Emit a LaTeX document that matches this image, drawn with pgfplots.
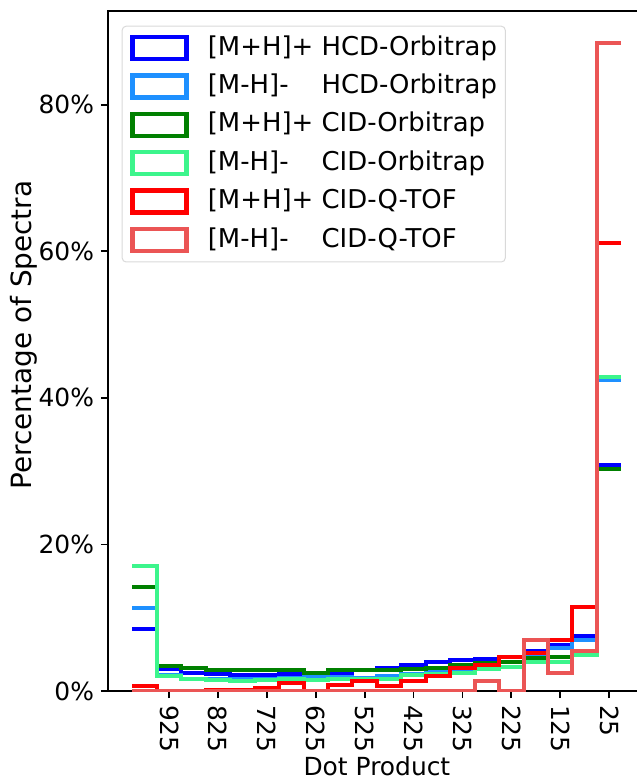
\documentclass[border=0pt]{standalone}
\usepackage{fontspec}
\setmainfont{DejaVu Sans}
\usepackage{pgfplots}
\pgfplotsset{compat=1.18}

\definecolor{cBlue}{RGB}{0,0,255}
\definecolor{cLBlue}{RGB}{30,144,255}
\definecolor{cDGreen}{RGB}{0,128,0}
\definecolor{cLGreen}{RGB}{60,245,140}
\definecolor{cRed}{RGB}{255,0,0}
\definecolor{cLRed}{RGB}{235,85,85}

\begin{document}
\begin{tikzpicture}
\begin{axis}[
  scale only axis, width=268.9bp, height=340bp,
  x dir=reverse, xmin=-50, xmax=1050, ymin=0, ymax=92.8,
  xtick={25,125,...,925},
  ytick={0,20,40,60,80},
  yticklabel={\pgfmathprintnumber{\tick}\%},
  /pgf/number format/assume math mode=true,
  tick label style={font=\fontsize{12.5}{14}\selectfont},
  xticklabel style={rotate=-90, anchor=west},
  tick align=outside, major tick length=3.5bp,
  xtick pos=bottom, ytick pos=left,
  tick style={black, line width=0.9bp},
  axis line style={line width=1.1bp},
  xlabel={Dot Product},
  xlabel style={at={(axis description cs:0.5,0)}, anchor=base, yshift=-42bp, font=\fontsize{12.5}{15}\selectfont},
  ylabel={Percentage of Spectra},
  ylabel style={at={(axis description cs:0,0.5)}, anchor=center, yshift=42bp, xshift=8bp, font=\fontsize{14}{16}\selectfont},
  legend image code/.code={\draw[#1, sharp corners, line width=2.2bp] (0bp,-5.5bp) rectangle (27bp,5.5bp);},
  legend cell align=left,
  legend style={at={(axis description cs:0,1)}, anchor=north west, xshift=6.85bp, yshift=-7.35bp,
    draw=black!15, line width=0.5bp, rounded corners=2bp, fill=white, fill opacity=0.8, text opacity=1,
    font=\fontsize{13}{15}\selectfont, inner xsep=4.15bp, inner ysep=4.35bp, row sep=6bp, column sep=9.5bp,
    nodes={inner sep=0pt, text height=10bp, text depth=3bp}},
  every axis plot/.append style={const plot mark left, line width=2bp, mark=none},
]
\coordinate (sw) at (axis description cs:0,0);
\coordinate (ne) at (axis description cs:1,1);

\addplot[cBlue] coordinates {(1000,8.4)(950,3.0)(900,2.5)(850,2.3)(800,2.2)(750,2.2)(700,2.3)(650,2.2)(600,2.4)(550,2.8)(500,3.1)(450,3.6)(400,3.9)(350,4.2)(300,4.4)(250,4.6)(200,5.4)(150,6.3)(100,7.5)(50,30.8)(0,30.8)};
\addlegendentry{\makebox[4.39em][l]{[M+H]+}HCD-Orbitrap}
\addplot[cLBlue] coordinates {(1000,11.3)(950,2.2)(900,1.7)(850,1.6)(800,1.6)(750,1.7)(700,1.8)(650,1.9)(600,1.9)(550,1.8)(500,2.0)(450,2.3)(400,2.6)(350,3.0)(300,3.5)(250,4.0)(200,4.8)(150,5.8)(100,7.0)(50,42.5)(0,42.5)};
\addlegendentry{\makebox[4.39em][l]{[M-H]-}HCD-Orbitrap}
\addplot[cDGreen] coordinates {(1000,14.2)(950,3.4)(900,3.1)(850,2.8)(800,2.8)(750,2.8)(700,2.8)(650,2.4)(600,2.8)(550,2.8)(500,2.8)(450,3.0)(400,3.2)(350,3.5)(300,3.8)(250,3.9)(200,4.5)(150,4.7)(100,5.3)(50,30.3)(0,30.3)};
\addlegendentry{\makebox[4.39em][l]{[M+H]+}CID-Orbitrap}
\addplot[cLGreen] coordinates {(1000,17.1)(950,2.1)(900,1.6)(850,1.5)(800,1.3)(750,1.5)(700,1.6)(650,1.5)(600,1.6)(550,1.7)(500,1.7)(450,2.2)(400,2.3)(350,2.5)(300,3.0)(250,3.3)(200,3.9)(150,3.9)(100,4.9)(50,42.8)(0,42.8)};
\addlegendentry{\makebox[4.39em][l]{[M-H]-}CID-Orbitrap}
\addplot[cRed] coordinates {(1000,0.7)(950,0.05)(900,0.05)(850,0.2)(800,0.2)(750,0.35)(700,1.1)(650,0)(600,0.8)(550,1.3)(500,0.7)(450,1.4)(400,2.0)(350,3.2)(300,3.6)(250,4.7)(200,5.2)(150,7.0)(100,11.4)(50,61.1)(0,61.1)};
\addlegendentry{\makebox[4.39em][l]{[M+H]+}CID-Q-TOF}
\addplot[cLRed] coordinates {(1000,0)(950,0)(900,0)(850,0)(800,0)(750,0)(700,0)(650,0)(600,0)(550,0)(500,0)(450,0)(400,0)(350,0)(300,1.4)(250,0)(200,7.0)(150,2.5)(100,5.5)(50,88.5)(0,88.5)};
\addlegendentry{\makebox[4.39em][l]{[M-H]-}CID-Q-TOF}
\end{axis}
\pgfresetboundingbox
\path ([shift={(-54bp,-44bp)}]sw) rectangle ([shift={(-4.4bp,5.5bp)}]ne);
\end{tikzpicture}
\end{document}
